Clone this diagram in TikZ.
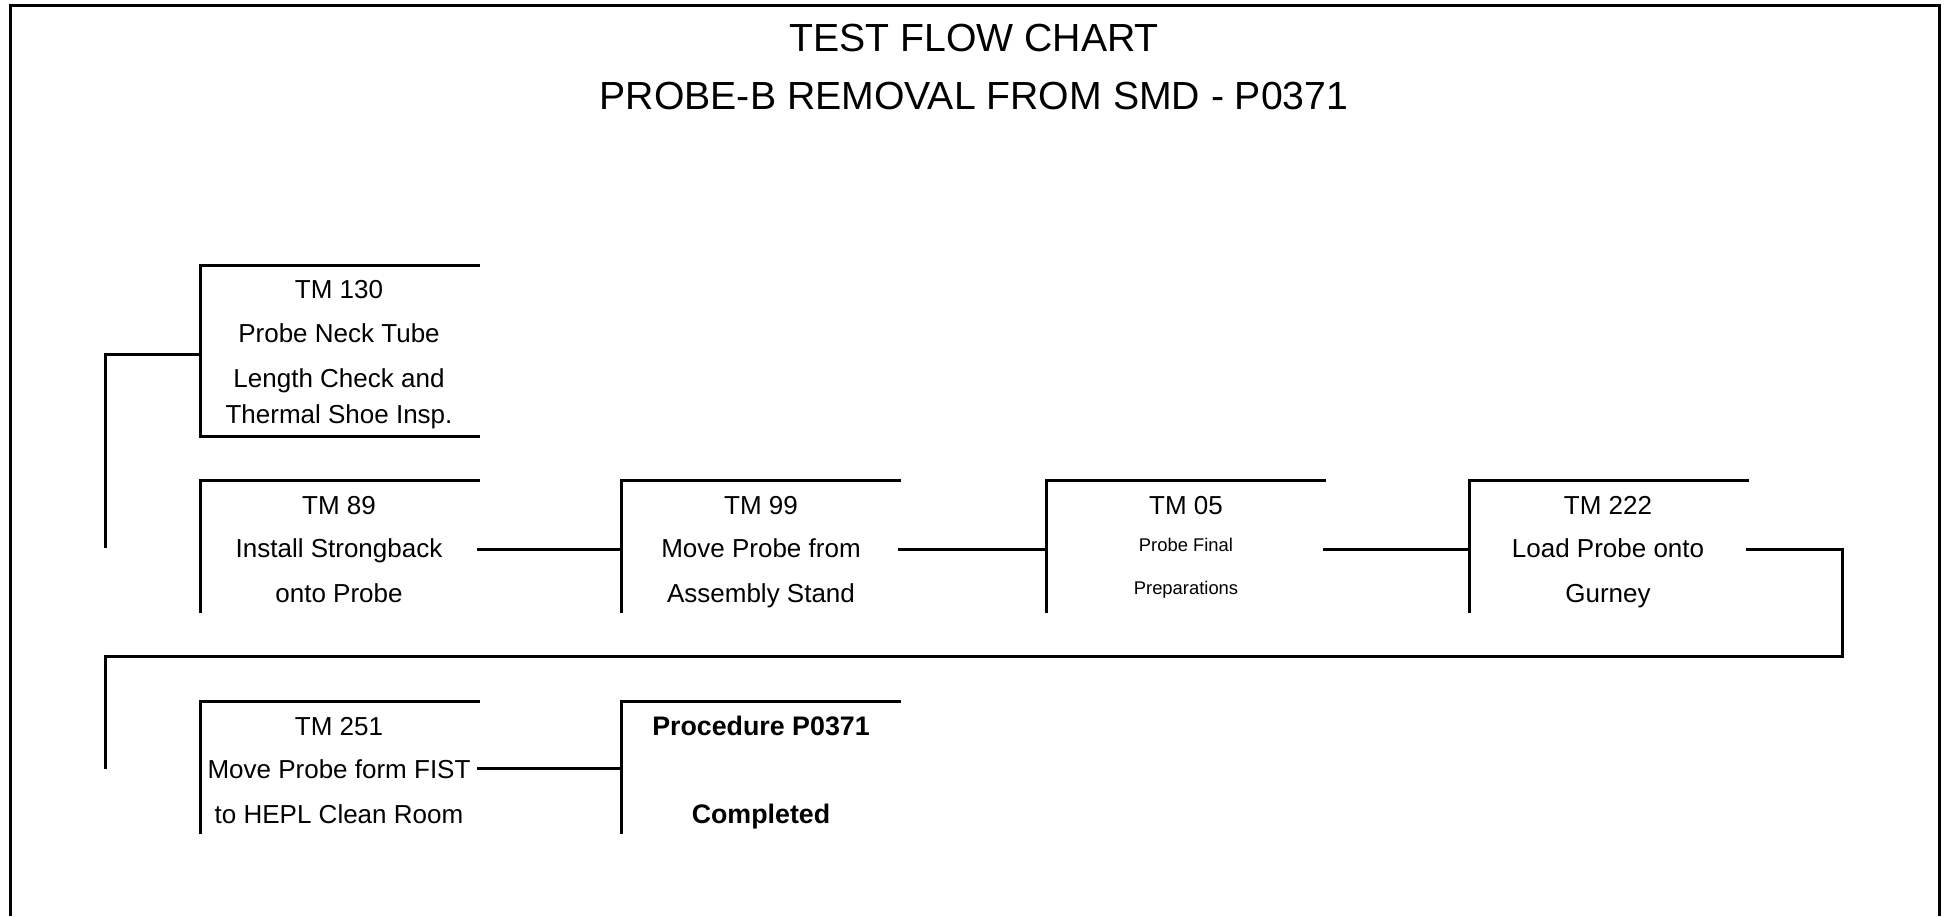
\documentclass[tikz,border=0pt]{standalone}
\usepackage{fontspec}
\setmainfont{Liberation Sans}
\begin{document}
\begin{tikzpicture}[x=0.5pt,y=-0.5pt,
  edge/.style={line width=1.5pt, line cap=rect},
  boxshape/.style={rectangle, inner sep=0pt, minimum width=139pt, minimum height=65.5pt, anchor=north west},
  tallbox/.style={boxshape, minimum height=85.5pt},
  tl/.style={anchor=base, inner sep=0pt, font=\fontsize{13}{15}\selectfont},
  sl/.style={anchor=base, inner sep=0pt, font=\fontsize{9.2}{11}\selectfont},
  bl/.style={anchor=base, inner sep=0pt, font=\fontsize{13.4}{15}\selectfont\bfseries},
  ttl/.style={anchor=base, inner sep=0pt, font=\fontsize{19.6}{22}\selectfont}]
\useasboundingbox (0,0) rectangle (1946,916);
% frame
\draw[line width=1.5pt] (10,916) -- (10,5) -- (1939,5) -- (1939,916);
% title
\node[ttl] (title1) at (974,51) {TEST FLOW CHART};
\node[ttl] (title2) at (974,109.5) {PROBE-B REMOVAL FROM SMD - P0371};
% boxes
\node[tallbox] (b130) at (200,265) {};
\node[boxshape] (b89) at (200,480) {};
\node[boxshape] (b99) at (621,480) {};
\node[boxshape] (b05) at (1046,480) {};
\node[boxshape] (b222) at (1469,480) {};
\node[boxshape] (b251) at (200,701) {};
\node[boxshape] (bend) at (621,701) {};
\draw[edge] (b130.north east) -- (b130.north west) -- (b130.south west) -- (b130.south east);
\foreach \b in {b89,b99,b05,b222,b251,bend}
  \draw[edge] (\b.north east) -- (\b.north west) -- (\b.south west);
% texts
\node[tl] (t130a) at (339,298) {TM 130};
\node[tl] (t130b) at (339,342) {Probe Neck Tube};
\node[tl] (t130c) at (339,387) {Length Check and};
\node[tl] (t130d) at (339,423) {Thermal Shoe Insp.};
\node[tl] (t89a) at (339,514) {TM 89};
\node[tl] (t89b) at (339,557) {Install Strongback};
\node[tl] (t89c) at (339,602) {onto Probe};
\node[tl] (t99a) at (761,514) {TM 99};
\node[tl] (t99b) at (761,557) {Move Probe from};
\node[tl] (t99c) at (761,602) {Assembly Stand};
\node[tl] (t05a) at (1186,514) {TM 05};
\node[sl] (t05b) at (1186,551.5) {Probe Final};
\node[sl] (t05c) at (1186,594.5) {Preparations};
\node[tl] (t222a) at (1608,514) {TM 222};
\node[tl] (t222b) at (1608,557) {Load Probe onto};
\node[tl] (t222c) at (1608,602) {Gurney};
\node[tl] (t251a) at (339,735) {TM 251};
\node[tl] (t251b) at (339,778) {Move Probe form FIST};
\node[tl] (t251c) at (339,823) {to HEPL Clean Room};
\node[bl] (tenda) at (761,735) {Procedure P0371};
\node[bl] (tendb) at (761,823) {Completed};
% connectors
\coordinate (j1) at (105,546);
\coordinate (r1) at (1842,549);
\coordinate (r2) at (1842,656);
\coordinate (l2) at (105,656);
\coordinate (j2) at (105,767);
\draw[edge] ([yshift=-44.5pt]b130.north west) -| (j1);
\draw[edge] ([yshift=-34.5pt]b89.north east) -- ([yshift=-34.5pt]b99.north west);
\draw[edge] ([yshift=-34.5pt]b99.north east) -- ([yshift=-34.5pt]b05.north west);
\draw[edge] ([yshift=-34.5pt]b05.north east) -- ([yshift=-34.5pt]b222.north west);
\draw[edge] ([yshift=-34.5pt]b222.north east) -- (r1) -- (r2) -- (l2) -- (j2);
\draw[edge] ([yshift=-33.5pt]b251.north east) -- ([yshift=-33.5pt]bend.north west);
\end{tikzpicture}
\end{document}
